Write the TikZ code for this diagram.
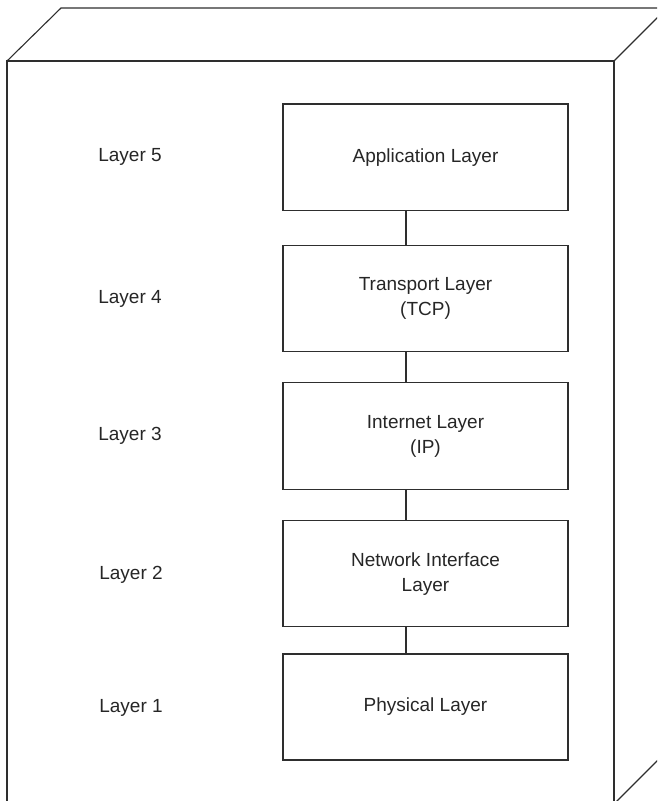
\documentclass[tikz,border=0pt]{standalone}
\usepackage{fontspec}
\setmainfont{Liberation Sans}
\begin{document}
\begin{tikzpicture}[x=1pt,y=-1pt,
  edge/.style={draw=black!82,line width=1.1pt},
  layerbox/.style={edge,rectangle,minimum width=285pt,inner sep=0pt,outer sep=0pt,
     align=center,text=black!85,font=\fontsize{19}{25}\selectfont},
  lbl/.style={text=black!85,font=\fontsize{19}{25}\selectfont,inner sep=0pt}]
\useasboundingbox (0,0) rectangle (657,801);
\begin{scope}
\clip (0,0) rectangle (657,801);
% cube outline
\coordinate (ftl) at (7,61);
\coordinate (ftr) at (614,61);
\coordinate (fbl) at (7,830);
\coordinate (fbr) at (614,830);
\coordinate (btl) at (61,8);
\coordinate (btr) at (667,8);
\coordinate (frb) at (614,804);
\coordinate (brb) at (680,738);
\draw[edge] (fbl) -- (ftl) -- (ftr) -- (fbr);
\draw[edge] (ftl) -- (btl) -- (btr);
\draw[edge] (ftr) -- (btr);
\draw[edge] (frb) -- (brb);
\end{scope}
% layer boxes
\node[layerbox,minimum height=106.7pt] (app) at (425.5,157.3) {Application Layer};
\node[layerbox,minimum height=106pt] (tcp) at (425.5,298.7) {Transport Layer\\(TCP)};
\node[layerbox,minimum height=106.6pt] (ip) at (425.5,436) {Internet Layer\\(IP)};
\node[layerbox,minimum height=106pt] (net) at (425.5,573.7) {Network Interface\\Layer};
\node[layerbox,minimum height=106pt] (phy) at (425.5,707) {Physical Layer};
% connectors
\draw[edge] ([xshift=-19.5pt]app.south) -- ([xshift=-19.5pt]tcp.north);
\draw[edge] ([xshift=-19.5pt]tcp.south) -- ([xshift=-19.5pt]ip.north);
\draw[edge] ([xshift=-19.5pt]ip.south) -- ([xshift=-19.5pt]net.north);
\draw[edge] ([xshift=-19.5pt]net.south) -- ([xshift=-19.5pt]phy.north);
% layer labels
\node[lbl] (l5) at (130,157) {Layer 5};
\node[lbl] (l4) at (130,299) {Layer 4};
\node[lbl] (l3) at (130,436) {Layer 3};
\node[lbl] (l2) at (131,575) {Layer 2};
\node[lbl] (l1) at (131,708) {Layer 1};
\end{tikzpicture}
\end{document}
